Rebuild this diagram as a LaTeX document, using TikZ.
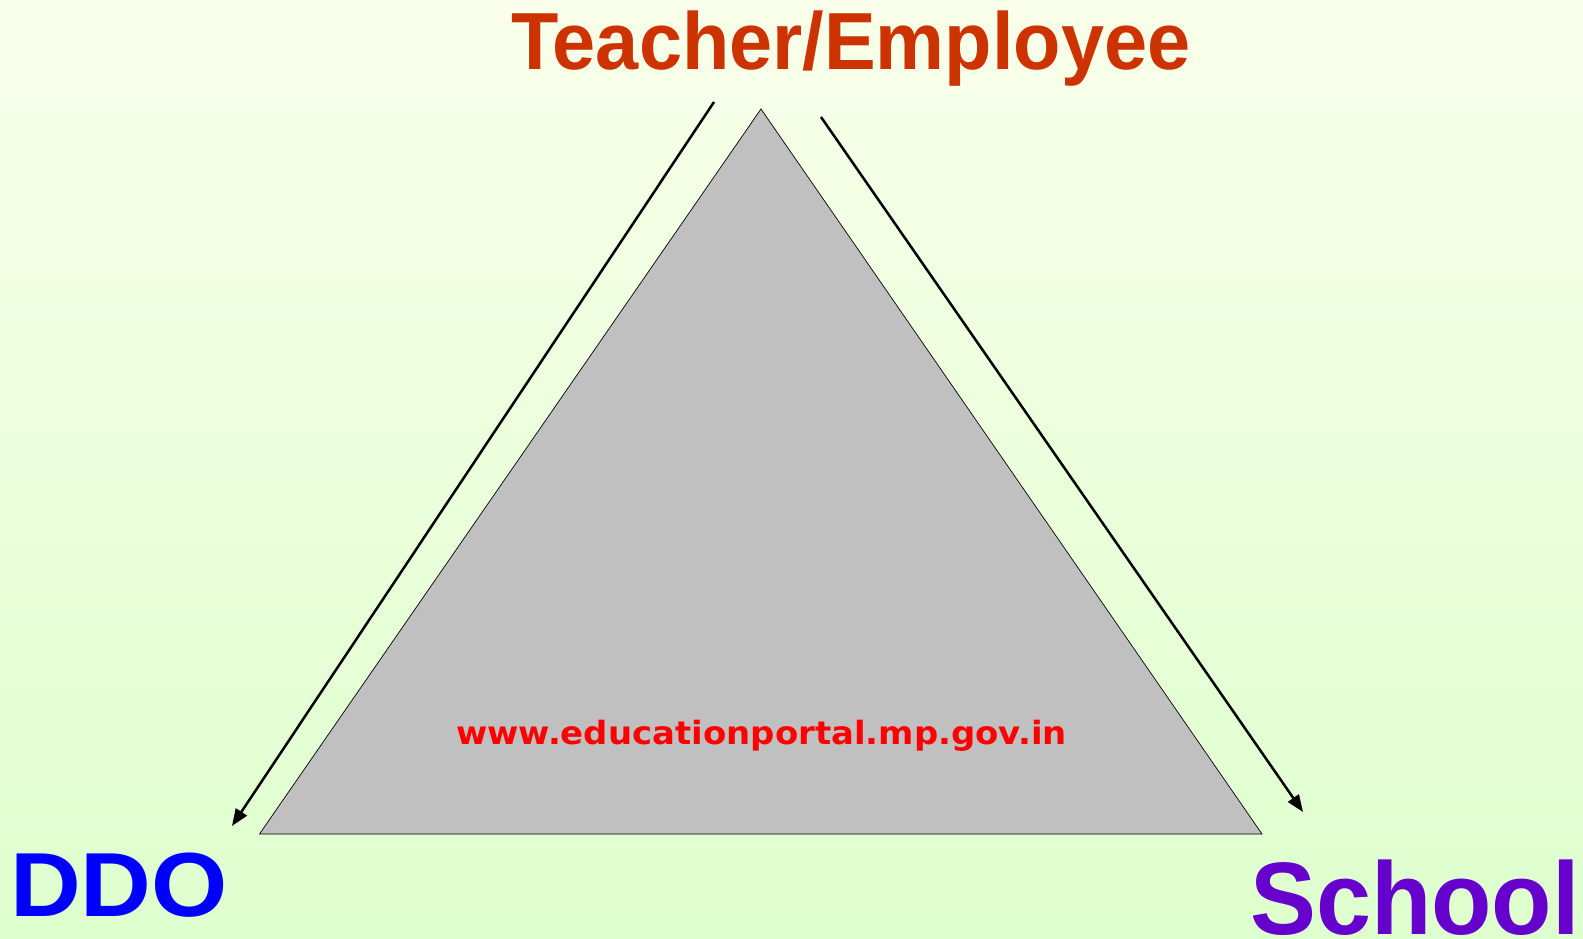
\documentclass[tikz,border=0pt]{standalone}
\usepackage{graphicx}
\usepackage{fontspec}
\setmainfont{Liberation Sans}
\newfontfamily\urlfont{DejaVu Sans}
\usetikzlibrary{arrows.meta}
\definecolor{bgtop}{RGB}{249,255,234}
\definecolor{bgbot}{RGB}{222,255,206}
\definecolor{tcol}{RGB}{204,51,0}
\definecolor{scol}{RGB}{102,0,204}
\definecolor{tri}{RGB}{192,192,192}
\tikzset{
  lbl/.style={inner sep=0pt, anchor=base west, font=\bfseries},
  flow/.style={line width=2.5pt, -{Triangle[length=17pt,width=13pt]}},
}
\begin{document}
\begin{tikzpicture}[x=1pt,y=-1pt]
\shade[top color=bgtop, bottom color=bgbot] (0,0) rectangle (1583,938);
\useasboundingbox (0,0) rectangle (1583,938);
\filldraw[fill=tri, draw=black, line width=0.7pt] (761,109) -- (1262,834) -- (259.5,834) -- cycle;
\node[lbl, text=tcol, font=\bfseries\fontsize{81}{90}\selectfont] (teacher) at (511,69) {\scalebox{0.957}[1]{Teacher/Employee}};
\node[lbl, text=blue, font=\bfseries\fontsize{91}{100}\selectfont] (ddo) at (10,916) {\scalebox{1.077}[1]{DDO}};
\node[lbl, text=scol, font=\bfseries\fontsize{103}{110}\selectfont] (school) at (1250,934) {\scalebox{0.96}[1]{School}};
\node[lbl, text=red, font=\urlfont\bfseries\fontsize{32}{36}\selectfont] (url) at (456,744) {\scalebox{1.06}[1]{www.educationportal.mp.gov.in}};
\coordinate (l1) at (714,102);
\coordinate (l2) at (232,826);
\coordinate (r1) at (821,117);
\coordinate (r2) at (1303,812);
\draw[flow] (l1) -- (l2);
\draw[flow] (r1) -- (r2);
\end{tikzpicture}
\end{document}
